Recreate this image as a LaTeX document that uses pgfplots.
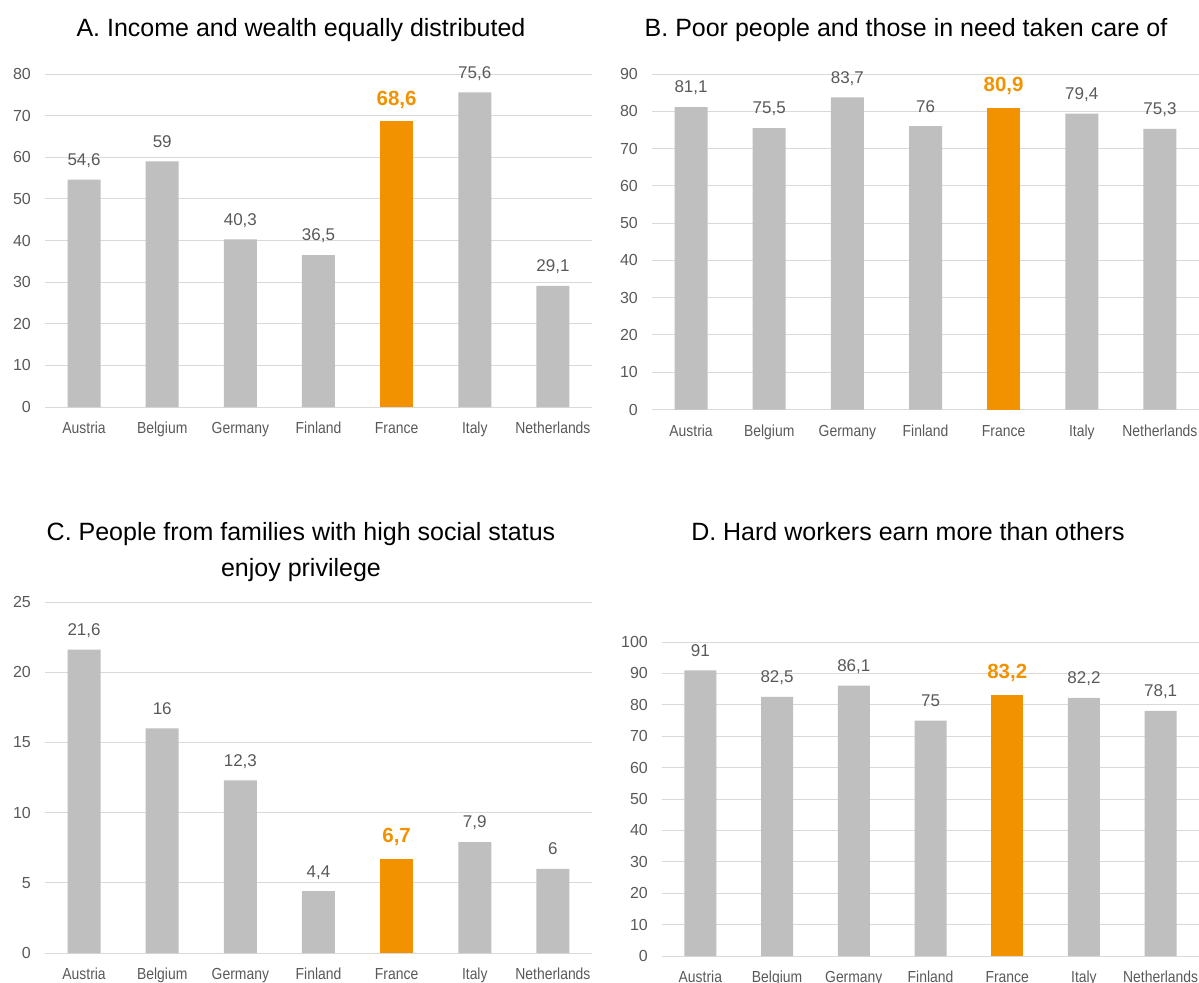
\documentclass[border=0pt]{standalone}
\usepackage{pgfplots}
\pgfplotsset{compat=1.18}
\usepackage{fontspec}
\setmainfont{Liberation Sans}
\newfontfamily\narrowfont[FakeStretch=0.87]{Liberation Sans}
\definecolor{barg}{HTML}{BFBFBF}
\definecolor{frorange}{HTML}{F39200}
\definecolor{txtg}{HTML}{595959}
\definecolor{gridg}{HTML}{D9D9D9}
\pgfplotsset{
  panel/.style={
    scale only axis,
    anchor=south west,
    ybar, bar width=33bp,
    xmin=-0.5, xmax=6.5, ymin=0,
    axis line style={draw=none},
    major tick length=0pt,
    ymajorgrids, major grid style={gridg, line width=1bp},
    xtick={0,1,2,3,4,5,6},
    xticklabels={Austria,Belgium,Germany,Finland,France,Italy,Netherlands},
    /pgf/number format/assume math mode=true,
    /pgf/number format/use comma,
    yticklabel style={font=\fontsize{16bp}{16bp}\selectfont, text=txtg, inner sep=0pt, xshift=-14bp},
    xticklabel style={font=\narrowfont\fontsize{16bp}{16bp}\selectfont, text=txtg, inner sep=0pt, text height=11.5bp, text depth=0pt, yshift=-15bp},
    clip=false,
  },
  grayb/.style={fill=barg, draw=none, bar shift=0pt, nodes near coords,
    every node near coord/.append style={font=\fontsize{17bp}{17bp}\selectfont, text=txtg, inner sep=0pt, text depth=0pt, anchor=south, yshift=14bp}},
  orangeb/.style={fill=frorange, draw=none, bar shift=0pt, nodes near coords,
    every node near coord/.append style={font=\bfseries\fontsize{20.5bp}{20.5bp}\selectfont, text=frorange, inner sep=0pt, text depth=0pt, anchor=south, yshift=16bp}},
}
\begin{document}
\begin{tikzpicture}
\path[use as bounding box] (0,0) rectangle (1199bp,-983bp);
% Panel A
\begin{axis}[panel, at={(45bp,-407bp)}, width=547bp, height=333bp, ymax=80, ytick={0,10,...,80}]
\addplot[grayb] coordinates {(0,54.6) (1,59) (2,40.3) (3,36.5) (5,75.6) (6,29.1)};
\addplot[orangeb] coordinates {(4,68.6)};
\end{axis}
% Panel B
\begin{axis}[panel, at={(652bp,-409.5bp)}, width=547bp, height=335.5bp, ymax=90, ytick={0,10,...,90}]
\addplot[grayb] coordinates {(0,81.1) (1,75.5) (2,83.7) (3,76) (5,79.4) (6,75.3)};
\addplot[orangeb] coordinates {(4,80.9)};
\end{axis}
% Panel C
\begin{axis}[panel, at={(45bp,-953bp)}, width=547bp, height=351bp, ymax=25, ytick={0,5,...,25}]
\addplot[grayb] coordinates {(0,21.6) (1,16) (2,12.3) (3,4.4) (5,7.9) (6,6)};
\addplot[orangeb] coordinates {(4,6.7)};
\end{axis}
% Panel D
\begin{axis}[panel, at={(662bp,-956bp)}, width=537bp, height=314bp, ymax=100, ytick={0,10,...,100}, bar width=32bp]
\addplot[grayb] coordinates {(0,91) (1,82.5) (2,86.1) (3,75) (5,82.2) (6,78.1)};
\addplot[orangeb] coordinates {(4,83.2)};
\end{axis}
% Titles
\begin{scope}[every node/.style={anchor=base, inner sep=0pt, font=\fontsize{25bp}{25bp}\selectfont}]
\node at (301bp,-36bp) {A. Income and wealth equally distributed};
\node at (906bp,-36bp) {B. Poor people and those in need taken care of};
\node at (301bp,-540bp) {C. People from families with high social status};
\node at (301bp,-576bp) {enjoy privilege};
\node at (908bp,-540bp) {D. Hard workers earn more than others};
\end{scope}
\end{tikzpicture}
\end{document}
